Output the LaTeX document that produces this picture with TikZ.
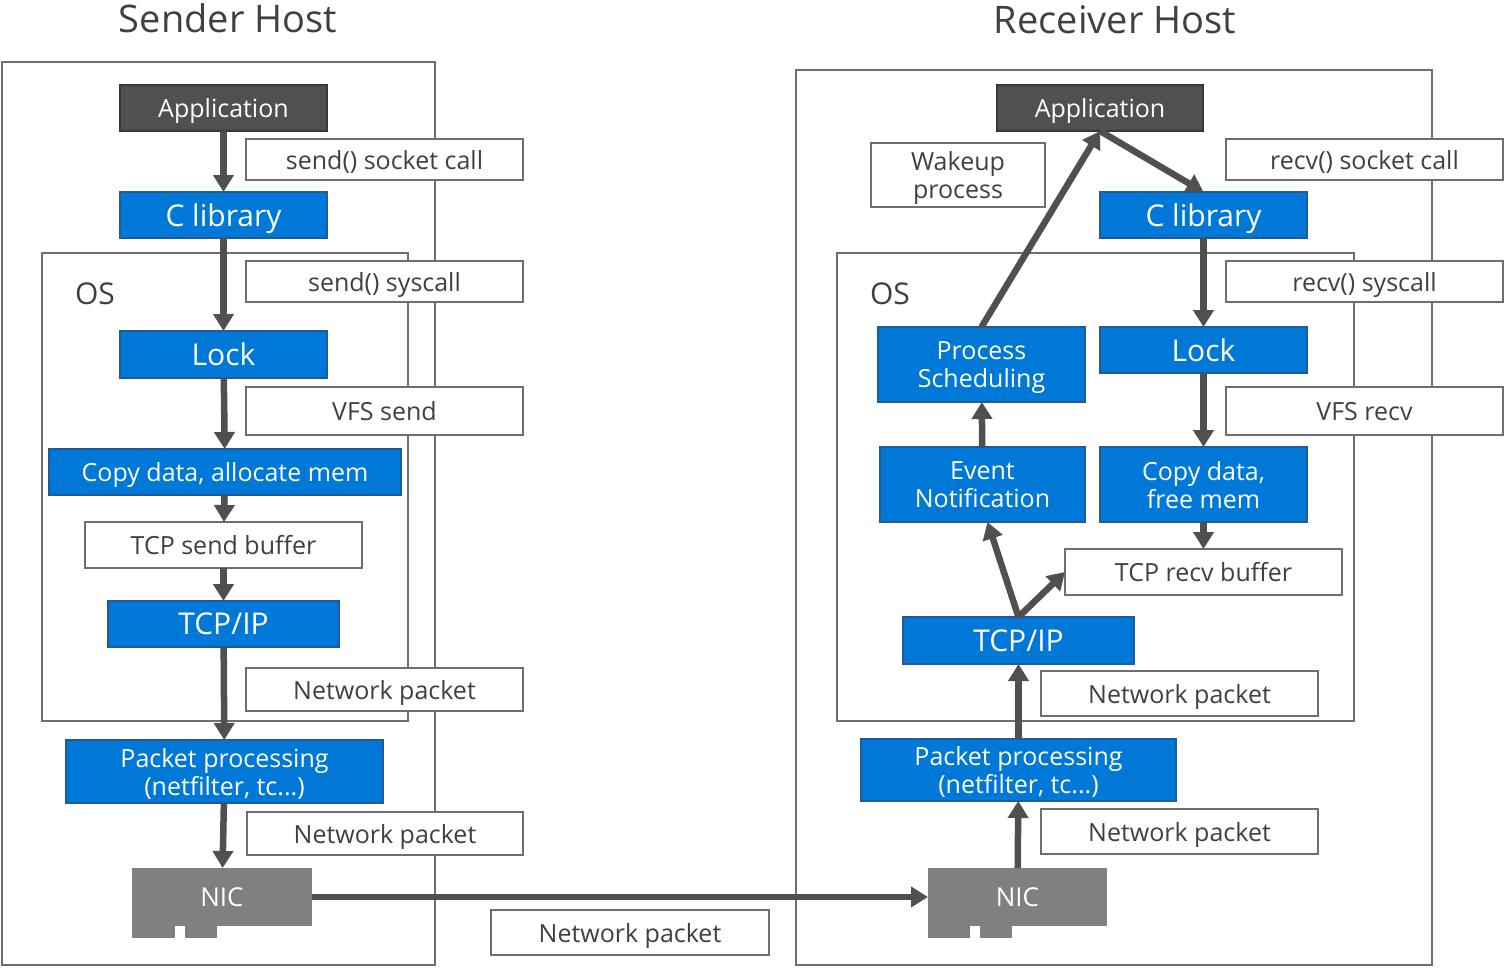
\documentclass[tikz,border=0pt]{standalone}
\usepackage{fontspec}
\setmainfont{Open Sans}
\usetikzlibrary{arrows.meta}
\definecolor{netblue}{HTML}{0078D7}
\definecolor{netblueline}{HTML}{1F5C99}
\definecolor{appgray}{HTML}{505050}
\definecolor{nicgray}{HTML}{808080}
\definecolor{framegray}{HTML}{6E6E6E}
\definecolor{textgray}{HTML}{404040}

\begin{document}
\begin{tikzpicture}[x=1pt, y=-1pt,
  every node/.style={inner sep=0pt, outer sep=0pt, align=center, text depth=0pt},
  appbox/.style={draw=appgray!70!black, line width=1.2pt, fill=appgray, text=white, font=\fontsize{25}{28}\selectfont},
  blockbox/.style={draw=netblueline, line width=1.2pt, fill=netblue, text=white, font=\fontsize{25}{28}\selectfont},
  bigblock/.style={blockbox, font=\fontsize{30}{32}\selectfont},
  notebox/.style={draw=framegray, line width=1.5pt, fill=white, text=textgray, font=\fontsize{25}{28}\selectfont},
  nicbox/.style={fill=nicgray, text=white, font=\fontsize{26}{28}\selectfont},
  hostframe/.style={draw=framegray, line width=1.8pt},
  flow/.style={draw=appgray, line width=6.5pt, -{Triangle[length=17pt,width=20pt]}}]
\useasboundingbox (0,0) rectangle (1505,967);

% hosts and OS frames
\draw[hostframe] (2,62) rectangle (435,965);
\draw[hostframe] (42,253) rectangle (408,721);
\draw[hostframe] (796,70) rectangle (1432,965);
\draw[hostframe] (837,253) rectangle (1354,721);
\node[text=textgray, font=\fontsize{38}{40}\selectfont] (stitle) at (228,18) {Sender Host};
\node[text=textgray, font=\fontsize{38}{40}\selectfont] (rtitle) at (1115,20) {Receiver Host};
\node[text=textgray, font=\fontsize{30}{32}\selectfont] (sos) at (95,294) {OS};
\node[text=textgray, font=\fontsize{30}{32}\selectfont] (ros) at (890,294) {OS};

% sender side
\node[appbox, minimum width=207, minimum height=46] (sapp) at (223.5,108) {Application};
\node[notebox, minimum width=277, minimum height=41] (ssock) at (384.5,159.5) {send() socket call};
\node[bigblock, minimum width=207, minimum height=46] (sclib) at (223.5,215) {C library};
\node[notebox, minimum width=277, minimum height=41] (ssys) at (384.5,281.5) {send() syscall};
\node[bigblock, minimum width=207, minimum height=47] (slock) at (223.5,354.5) {Lock};
\node[notebox, minimum width=277, minimum height=48] (svfs) at (384.5,411) {VFS send};
\node[blockbox, minimum width=352, minimum height=46] (scopy) at (225,472) {Copy data, allocate mem};
\node[notebox, minimum width=277, minimum height=46] (sbuf) at (223.5,545) {TCP send buffer};
\node[bigblock, minimum width=231, minimum height=46] (stcp) at (223.5,624) {TCP/IP};
\node[notebox, minimum width=277, minimum height=43] (spkt1) at (384.5,689.5) {Network packet};
\node[blockbox, minimum width=317, minimum height=63] (sproc) at (224.5,771.5) {Packet processing\\(netfilter, tc...)};
\node[notebox, minimum width=276, minimum height=43] (spkt2) at (385,833.5) {Network packet};
\node[nicbox, minimum width=180, minimum height=58] (snic) at (222,897) {NIC};
\fill[nicgray] (snic.south west) rectangle ++(43,12);
\fill[nicgray] ([xshift=53]snic.south west) rectangle ++(32,12);

% receiver side
\node[appbox, minimum width=206, minimum height=46] (rapp) at (1100,108) {Application};
\node[notebox, minimum width=174, minimum height=64] (rwake) at (958,175) {Wakeup\\process};
\node[notebox, minimum width=277, minimum height=41] (rsock) at (1364.5,159.5) {recv() socket call};
\node[bigblock, minimum width=207, minimum height=46] (rclib) at (1203.5,215) {C library};
\node[notebox, minimum width=277, minimum height=41] (rsys) at (1364.5,281.5) {recv() syscall};
\node[blockbox, minimum width=207, minimum height=75] (rsched) at (981.5,364.5) {Process\\Scheduling};
\node[bigblock, minimum width=207, minimum height=46] (rlock) at (1203.5,350) {Lock};
\node[notebox, minimum width=277, minimum height=48] (rvfs) at (1364.5,411) {VFS recv};
\node[blockbox, minimum width=205, minimum height=75] (revent) at (982.5,484.5) {Event\\Notification};
\node[blockbox, minimum width=207, minimum height=75] (rcopy) at (1203.5,484.5) {Copy data,\\free mem};
\node[notebox, minimum width=277, minimum height=46] (rbuf) at (1203.5,572) {TCP recv buffer};
\node[bigblock, minimum width=231, minimum height=47] (rtcp) at (1018.5,640.5) {TCP/IP};
\node[notebox, minimum width=277, minimum height=45] (rpkt1) at (1179.5,693.5) {Network packet};
\node[blockbox, minimum width=315, minimum height=62] (rproc) at (1018.5,770) {Packet processing\\(netfilter, tc...)};
\node[notebox, minimum width=277, minimum height=45] (rpkt2) at (1179.5,831.5) {Network packet};
\node[nicbox, minimum width=179, minimum height=58] (rnic) at (1017.5,897) {NIC};
\fill[nicgray] (rnic.south west) rectangle ++(42,12);
\fill[nicgray] ([xshift=52]rnic.south west) rectangle ++(32,12);

\node[notebox, minimum width=278, minimum height=45] (wire) at (630,932.5) {Network packet};

% send path
\draw[flow] (sapp) -- (sclib);
\draw[flow] (sclib) -- (slock);
\draw[flow] (slock) -- (scopy);
\draw[flow] (scopy) -- (sbuf);
\draw[flow] (sbuf) -- (stcp);
\draw[flow] (stcp) -- (sproc);
\draw[flow] (sproc) -- (snic);
\draw[flow] (snic) -- (rnic);

% receive path
\draw[flow] (rnic) -- (rproc);
\draw[flow] (rproc) -- (rtcp);
\draw[flow] (rtcp.north) -- ([xshift=5]revent.south);
\draw[flow] (rtcp.north) -- (rbuf.west);
\draw[flow] (revent) -- (rsched);
\draw[flow] (rsched.north) -- (rapp.south);
\draw[flow] (rapp.south) -- (rclib.north);
\draw[flow] (rclib) -- (rlock);
\draw[flow] (rlock) -- (rcopy);
\draw[flow] (rcopy) -- (rbuf);
\end{tikzpicture}
\end{document}
